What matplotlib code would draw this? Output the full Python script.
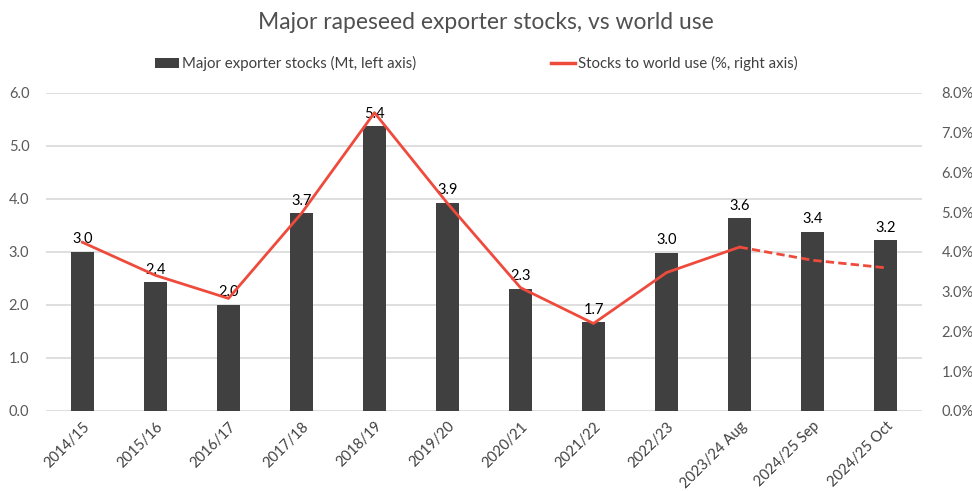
import numpy as np
import matplotlib
matplotlib.use('Agg')
import matplotlib.pyplot as plt
from matplotlib.lines import Line2D
from matplotlib.patches import Patch
from matplotlib.ticker import FuncFormatter

plt.rcParams['font.family'] = ['Lato', 'DejaVu Sans']

seasons = ['2014/15', '2015/16', '2016/17', '2017/18', '2018/19', '2019/20',
           '2020/21', '2021/22', '2022/23', '2023/24 Aug', '2024/25 Sep', '2024/25 Oct']
stocks = [3.0, 2.43, 2.0, 3.73, 5.37, 3.93, 2.3, 1.67, 2.98, 3.63, 3.38, 3.22]
stock_labels = ['3.0', '2.4', '2.0', '3.7', '5.4', '3.9', '2.3', '1.7', '3.0', '3.6', '3.4', '3.2']
stocks_to_use = [4.24, 3.41, 2.83, 4.97, 7.5, 5.22, 3.1, 2.2, 3.48, 4.12, 3.79, 3.6]

bar_col = '#404040'
line_col = '#EE4B3D'
tick_col = '#595959'

fig = plt.figure(figsize=(9.72, 4.91), dpi=100)
ax = fig.add_axes([0.0473, 0.163, 0.9013, 0.648])
ax2 = ax.twinx()

x = np.arange(len(seasons))
ax.bar(x, stocks, width=0.31, color=bar_col, zorder=2)
for xi, v, lab in zip(x, stocks, stock_labels):
    ax.annotate(lab, (xi, v), xytext=(0, 4), textcoords='offset points',
                ha='center', va='bottom', fontsize=10.5, color='black', zorder=5)

ax.set_ylim(0, 6)
ax.set_yticks(np.arange(0, 6.1, 1))
ax.yaxis.set_major_formatter(FuncFormatter(lambda v, p: f'{v:.1f}'))
ax.set_xlim(-0.5, len(seasons) - 0.5)
ax.set_xticks(x)
ax.set_xticklabels(seasons, rotation=45, ha='right', rotation_mode='anchor')
ax.grid(axis='y', color='#D9D9D9', linewidth=1.2, zorder=0)
ax.set_axisbelow(True)

ax2.plot(x[:10], stocks_to_use[:10], color=line_col, linewidth=2, zorder=3)
ax2.plot(x[9:], stocks_to_use[9:], color=line_col, linewidth=2, linestyle=(0, (3, 1.5)), zorder=3)
ax2.set_ylim(0, 8)
ax2.set_yticks(np.arange(0, 8.1, 1))
ax2.yaxis.set_major_formatter(FuncFormatter(lambda v, p: f'{v:.1f}%'))

for a in (ax, ax2):
    for s in a.spines.values():
        s.set_visible(False)
    a.tick_params(length=0, labelsize=10.5, labelcolor=tick_col)
ax.tick_params(axis='x', labelcolor='#404040', pad=6)
ax.tick_params(axis='y', pad=12)
ax2.tick_params(axis='y', pad=14)

fig.text(0.5, 0.955, 'Major rapeseed exporter stocks, vs world use', ha='center', va='center',
         fontsize=16.5, color='#505050')

handles = [Patch(facecolor=bar_col), Line2D([0], [0], color=line_col, linewidth=2.5)]
fig.legend(handles, ['Major exporter stocks (Mt, left axis)', 'Stocks to world use (%, right axis)'],
           loc='center', bbox_to_anchor=(0.49, 0.87), ncol=2, frameon=False, fontsize=10.8,
           columnspacing=9, handlelength=1.6, handletextpad=0.2, labelcolor='#404040')

fig.savefig('out.png', dpi=100)
